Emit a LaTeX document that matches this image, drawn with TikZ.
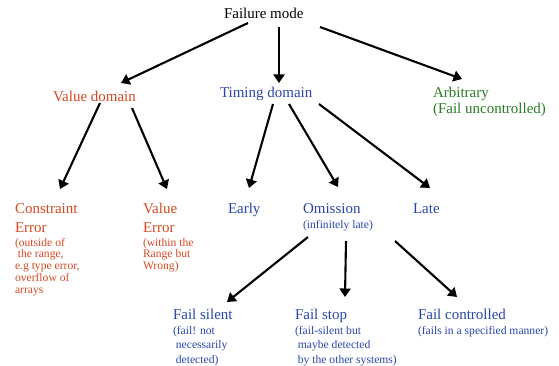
\documentclass[tikz,border=0pt]{standalone}
\usepackage{fontspec}
\setmainfont{Liberation Serif}
\usetikzlibrary{arrows.meta,calc}
\definecolor{vred}{RGB}{214,72,32}
\definecolor{vblue}{RGB}{40,70,170}
\definecolor{vgreen}{RGB}{40,125,35}
\newcommand\bigfnt{\fontsize{15}{19}\selectfont}
\newcommand\arbfnt{\fontsize{15}{16}\selectfont}
\newcommand\smfnt{\fontsize{11.6}{11.8}\selectfont}
\newcommand\smbfnt{\fontsize{11.6}{14.5}\selectfont}
\newcommand\blk[1]{\begin{tabular}[t]{@{}l@{}}#1\end{tabular}}
\begin{document}
\begin{tikzpicture}[x=1pt,y=-1pt,
  lbl/.style={anchor=base west,inner sep=0pt,outer sep=0pt,font=\bigfnt},
  note/.style={anchor=base west,inner sep=0pt,outer sep=0pt,font=\smfnt},
  noteb/.style={anchor=base west,inner sep=0pt,outer sep=0pt,font=\smbfnt},
  arr/.style={line width=2.1pt,-{Triangle[length=8.5pt,width=11pt]}}]
\useasboundingbox (0,0) rectangle (559,366);
% nodes
\node[lbl] (fm) at (224,19) {Failure mode};
\node[lbl,text=vred] (vd) at (53,102) {Value domain};
\node[lbl,text=vblue] (td) at (220,98) {Timing domain};
\node[lbl,font=\arbfnt,text=vgreen] (arb) at (433,98) {\blk{Arbitrary\\(Fail uncontrolled)}};
\node[lbl,text=vred] (ce) at (15,213) {\blk{Constraint\\Error}};
\node[note,text=vred] (cenote) at (15,246) {\blk{(outside of\\\hspace*{0.25em}the range,\\e.g type error,\\overflow of\\arrays}};
\node[lbl,text=vred] (ve) at (143,213) {\blk{Value\\Error}};
\node[note,text=vred] (venote) at (143,246) {\blk{(within the\\Range but\\Wrong)}};
\node[lbl,text=vblue] (early) at (228,213) {Early};
\node[lbl,text=vblue] (om) at (303,213) {Omission};
\node[note,text=vblue] (omnote) at (303,228) {(infinitely late)};
\node[lbl,text=vblue] (late) at (413,213) {Late};
\node[lbl,text=vblue] (fsil) at (173,319) {Fail silent};
\node[noteb,text=vblue] (fsilnote) at (173,334) {\blk{(fail! not\\\hspace*{0.25em}necessarily\\\hspace*{0.25em}detected)}};
\node[lbl,text=vblue] (fstop) at (295,319) {Fail stop};
\node[noteb,text=vblue] (fstopnote) at (295,334) {\blk{(fail-silent but\\\hspace*{0.25em}maybe detected\\\hspace*{0.25em}by the other systems)}};
\node[lbl,text=vblue] (fctl) at (418,319) {Fail controlled};
\node[noteb,text=vblue] (fctlnote) at (418,334) {(fails in a specified manner)};
% connectors
\draw[arr] ($(fm.base west)+(24,4)$) -- ($(vd.base west)+(68,-19)$);
\draw[arr] ($(fm.base west)+(55,8)$) -- ($(td.base west)+(59,-15)$);
\draw[arr] ($(fm.base west)+(96,8)$) -- ($(arb.base west)+(29,-19)$);
\draw[arr] ($(vd.base west)+(47,1)$) -- ($(ce.base west)+(45,-24)$);
\draw[arr] ($(vd.base west)+(79,6)$) -- ($(ve.base west)+(24,-24)$);
\draw[arr] ($(td.base west)+(53,6)$) -- ($(early.base west)+(21,-25)$);
\draw[arr] ($(td.base west)+(69,6)$) -- ($(om.base west)+(35,-26)$);
\draw[arr] ($(td.base west)+(99,6)$) -- ($(late.base west)+(17,-25)$);
\draw[arr] ($(om.base west)+(5,24)$) -- ($(fsil.base west)+(54,-17)$);
\draw[arr] ($(om.base west)+(43,28)$) -- ($(fstop.base west)+(50,-22)$);
\draw[arr] ($(om.base west)+(92,28)$) -- ($(fctl.base west)+(39,-22)$);
\end{tikzpicture}
\end{document}
